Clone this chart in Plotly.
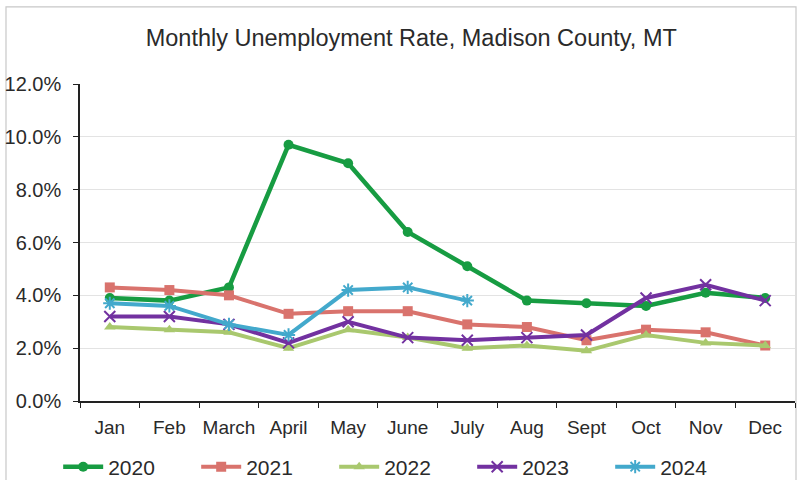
import plotly.graph_objects as go

months = ["Jan", "Feb", "March", "April", "May", "June", "July",
          "Aug", "Sept", "Oct", "Nov", "Dec"]

rate_2020 = [3.9, 3.8, 4.3, 9.7, 9.0, 6.4, 5.1, 3.8, 3.7, 3.6, 4.1, 3.9]
rate_2021 = [4.3, 4.2, 4.0, 3.3, 3.4, 3.4, 2.9, 2.8, 2.3, 2.7, 2.6, 2.1]
rate_2022 = [2.8, 2.7, 2.6, 2.0, 2.7, 2.4, 2.0, 2.1, 1.9, 2.5, 2.2, 2.1]
rate_2023 = [3.2, 3.2, 2.9, 2.2, 3.0, 2.4, 2.3, 2.4, 2.5, 3.9, 4.4, 3.8]
rate_2024 = [3.7, 3.6, 2.9, 2.5, 4.2, 4.3, 3.8]

y_ticks = [0, 2, 4, 6, 8, 10, 12]

series = [
    ("2020", rate_2020, "#179c42", "circle", 10, 4.5),
    ("2021", rate_2021, "#d9736d", "square", 10, 4),
    ("2022", rate_2022, "#a9c86e", "triangle-up", 10, 4),
    ("2023", rate_2023, "#7231a0", "x-thin-open", 11, 4),
    ("2024", rate_2024, "#43a9cc", "asterisk-open", 11, 4),
]

fig = go.Figure()
for name, vals, color, sym, size, width in series:
    marker = dict(symbol=sym, size=size, color=color)
    if sym.endswith("-open"):
        marker["line"] = dict(color=color, width=2)
    fig.add_trace(go.Scatter(
        x=months[:len(vals)], y=vals, name=name, mode="lines+markers",
        line=dict(color=color, width=width), marker=marker,
    ))

font = "Liberation Sans, Arial, sans-serif"
fig.update_layout(
    width=797, height=480,
    margin=dict(l=80, r=2, t=84, b=79),
    paper_bgcolor="white", plot_bgcolor="white",
    font=dict(family=font, size=20, color="#2a2a2a"),
    title=dict(text="Monthly Unemployment Rate, Madison County, MT",
               x=0.516, xanchor="center", y=0.921, yanchor="middle",
               font=dict(family=font, size=23.5, color="#2a2a2a")),
    showlegend=True,
    legend=dict(orientation="h", xref="container", yref="container",
                x=0.073, xanchor="left", y=0.027, yanchor="middle",
                entrywidth=83, entrywidthmode="pixels",
                font=dict(family=font, size=21, color="#2a2a2a"),
                itemwidth=40),
    xaxis=dict(type="category", categoryorder="array", categoryarray=months,
               range=[-0.5, 11.5], showline=True, linecolor="#222222",
               linewidth=1.5, ticks="outside", tickson="boundaries",
               ticklen=5, tickcolor="#222222", showgrid=False, tickangle=0,
               ticklabelstandoff=8, tickfont=dict(size=19)),
    yaxis=dict(range=[0, 12], tickvals=y_ticks, ticktext=[f"{v:.1f}%" for v in y_ticks],
               showline=True, linecolor="#222222", linewidth=1.5,
               ticks="outside", ticklen=5, tickcolor="#222222",
               showgrid=True, gridcolor="#e3e3e3", gridwidth=1,
               zeroline=False, ticklabelstandoff=8, tickfont=dict(size=20)),
    shapes=[dict(type="rect", xref="paper", yref="paper",
                 x0=-0.1035, x1=1.0014, y0=-0.5, y1=1.243,
                 line=dict(color="#c8c8c8", width=1.2), layer="below")],
)

fig.write_html("out.html")
